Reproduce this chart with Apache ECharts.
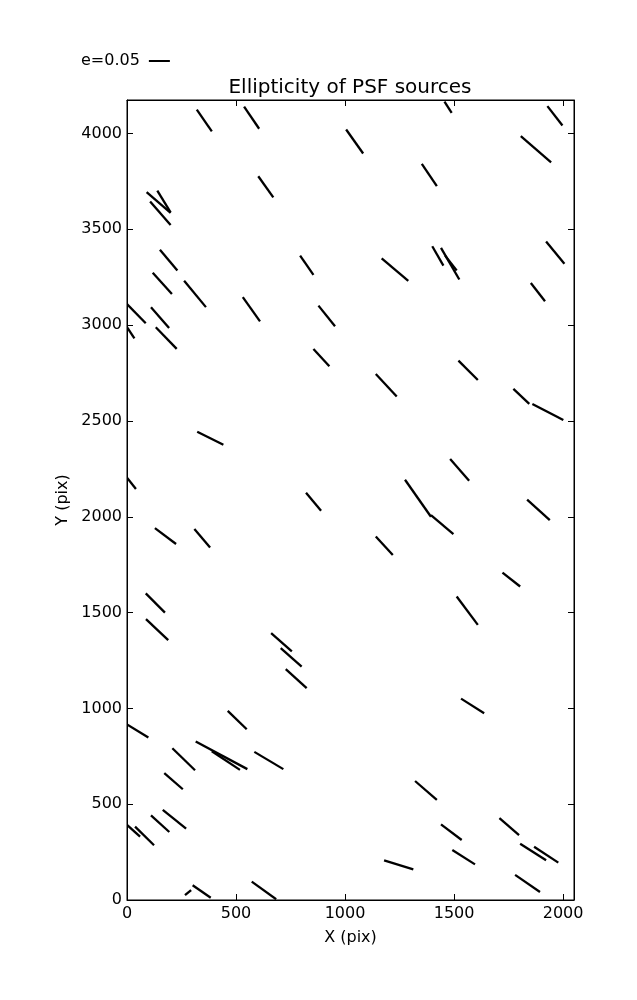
<!DOCTYPE html>
<html>
<head>
<meta charset="utf-8">
<script src="https://cdn.jsdelivr.net/npm/echarts@6/dist/echarts.min.js"></script>
<style>html,body{margin:0;padding:0;background:#fff;}#chart{width:637px;height:1000px;}</style>
</head>
<body>
<div id="chart"></div>
<script>
// Whisker segments (start and end points, in pixel-detector coordinates)
var xStart = [320,537,1005,602,90,139,106,151,794,118,262,531,1456,1928,1806,1352,1168,1400,1440,1459,1922,1852,0,110,0,132,878,855,322,0,821,1141,1520,1772,1859,1482,1275,1835,128,309,86,87,661,705,728,1394,1141,1722,1512,1532,0,462,208,315,389,584,171,110,164,0,37,266,301,572,1321,1440,1492,1179,1708,1803,1867,1780];
var yStart = [4125,4140,4021,3777,3694,3702,3645,3394,3363,3273,3232,3146,4167,4143,3986,3842,3349,3412,3403,3363,3436,3220,3110,3093,2989,2989,3102,2876,2444,2204,2125,2745,2815,2667,2589,2301,2193,2089,1941,1936,1600,1466,1393,1314,1205,2009,1897,1709,1584,1051,916,987,792,827,776,773,662,442,470,392,383,25,77,96,621,395,261,207,427,294,278,131];
var xEnd = [389,606,1083,671,200,200,200,231,855,206,362,610,1489,1997,1945,1421,1290,1451,1524,1512,2006,1917,86,193,34,228,954,928,442,41,890,1237,1609,1845,2001,1569,1394,1939,225,381,174,189,756,801,824,1497,1219,1803,1609,1638,98,549,312,552,518,717,256,194,271,60,124,294,384,684,1421,1535,1596,1313,1798,1922,1978,1894];
var yEnd = [4011,4025,3896,3667,3586,3589,3523,3285,3262,3163,3094,3020,4108,4042,3850,3725,3231,3311,3238,3285,3320,3125,3010,2985,2931,2876,2994,2785,2376,2145,2031,2628,2714,2589,2505,2188,2000,1983,1858,1840,1500,1356,1297,1218,1106,1910,1800,1636,1436,975,848,891,677,683,679,683,578,355,372,331,286,52,12,4,522,313,186,160,338,207,195,42];

var xTicks = [0, 500, 1000, 1500, 2000];
var yTicks = [0, 500, 1000, 1500, 2000, 2500, 3000, 3500, 4000];
var legendLabel = 'e=0.05';

var data = [];
for (var i = 0; i < xStart.length; i++) {
  data.push([xStart[i], yStart[i], xEnd[i], yEnd[i]]);
}

var FONT = 'DejaVu Sans';
var chart = echarts.init(document.getElementById('chart'), null, {renderer: 'canvas'});

function axisCommon(pos, showLabel, ticks, mn, mx) {
  return {
    type: 'value',
    position: pos,
    min: mn,
    max: mx,
    axisLine: {show: true, onZero: false, lineStyle: {color: '#000', width: 1}},
    axisTick: {show: true, inside: true, length: 6, customValues: ticks, lineStyle: {color: '#000', width: 1}},
    axisLabel: {show: showLabel, customValues: ticks, color: '#000', fontSize: 16, fontFamily: FONT, margin: 6,
                formatter: function (v) { return String(v); }},
    splitLine: {show: false}
  };
}

var xBottom = axisCommon('bottom', true, xTicks, 0, 2050);
xBottom.name = 'X (pix)';
xBottom.nameLocation = 'middle';
xBottom.nameGap = 30;
xBottom.nameTextStyle = {color: '#000', fontSize: 16, fontFamily: FONT};
var xTop = axisCommon('top', false, xTicks, 0, 2050);

var yLeft = axisCommon('left', true, yTicks, 0, 4175);
yLeft.axisLabel.margin = 5;
yLeft.name = 'Y (pix)';
yLeft.nameLocation = 'middle';
yLeft.nameGap = 50;
yLeft.nameTextStyle = {color: '#000', fontSize: 16, fontFamily: FONT};
var yRight = axisCommon('right', false, yTicks, 0, 4175);

chart.setOption({
  animation: false,
  backgroundColor: '#fff',
  title: {
    text: 'Ellipticity of PSF sources',
    left: 350,
    top: 78,
    textAlign: 'center',
    padding: 0,
    textStyle: {color: '#000', fontSize: 20, fontWeight: 'normal', fontFamily: FONT}
  },
  legend: {
    data: [{name: legendLabel, icon: 'rect'}],
    left: 81,
    top: 53,
    padding: 0,
    align: 'right',
    itemWidth: 21,
    itemHeight: 2,
    selectedMode: false,
    textStyle: {color: '#000', fontSize: 16, fontFamily: FONT, padding: [0, 4, 0, 0]}
  },
  grid: {left: 127, right: 63, top: 100, bottom: 100, containLabel: false, outerBoundsMode: 'none',
         show: true, borderColor: '#000', borderWidth: 1, backgroundColor: 'transparent'},
  xAxis: [xBottom, xTop],
  yAxis: [yLeft, yRight],
  series: [{
    name: legendLabel,
    type: 'custom',
    xAxisIndex: 0,
    yAxisIndex: 0,
    clip: true,
    itemStyle: {color: '#000'},
    encode: {x: [0, 2], y: [1, 3]},
    data: data,
    renderItem: function (params, api) {
      var p0 = api.coord([api.value(0), api.value(1)]);
      var p1 = api.coord([api.value(2), api.value(3)]);
      return {
        type: 'line',
        shape: {x1: p0[0], y1: p0[1], x2: p1[0], y2: p1[1]},
        style: {stroke: '#000', lineWidth: 2.3}
      };
    }
  }]
});
</script>
</body>
</html>
